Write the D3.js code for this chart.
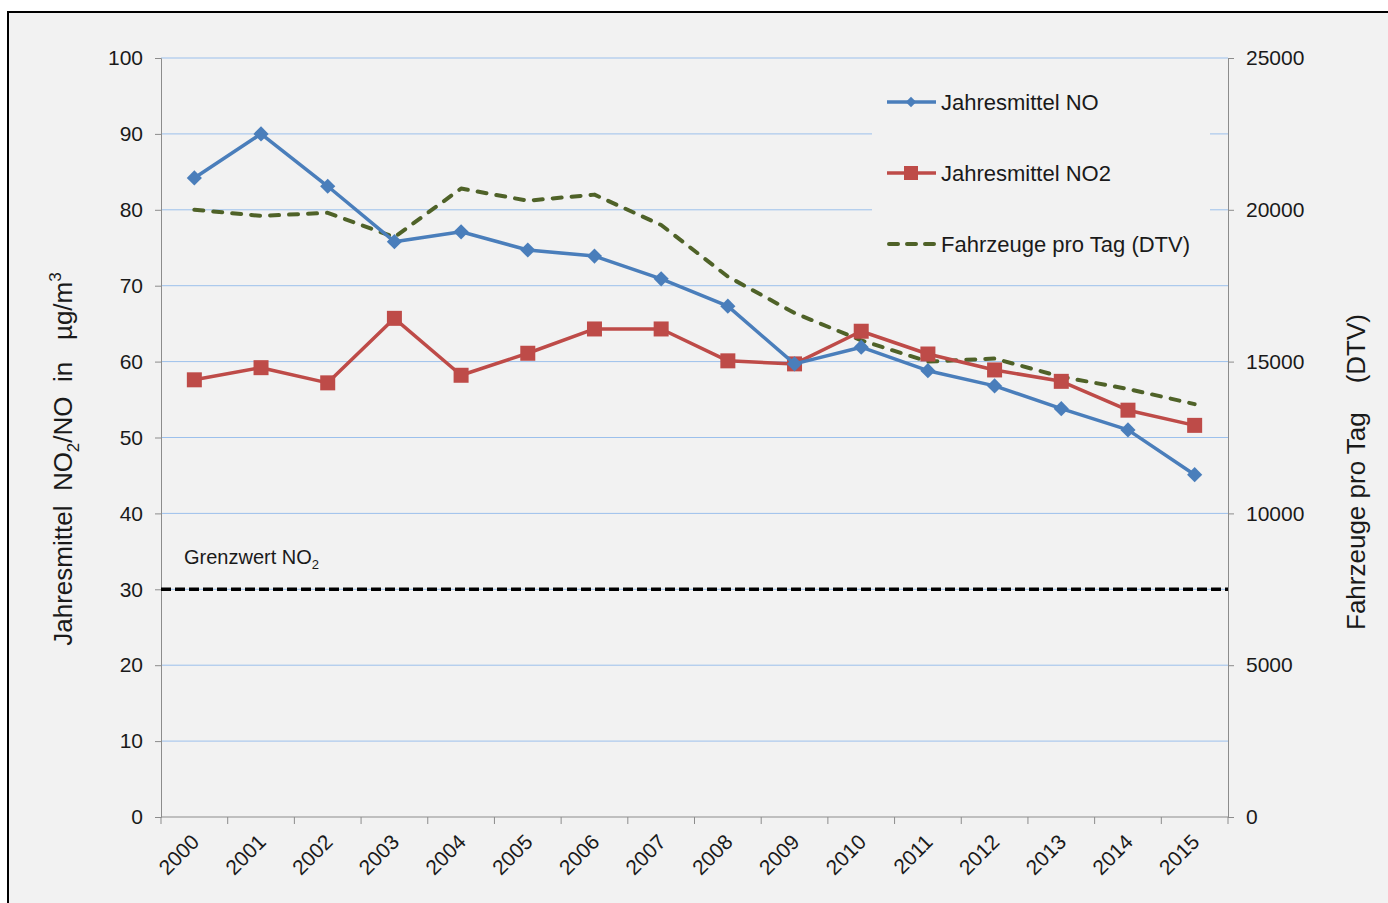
<!DOCTYPE html>
<html>
<head>
<meta charset="utf-8">
<script src="https://cdn.jsdelivr.net/npm/d3@7"></script>
<style>
  html, body { margin: 0; padding: 0; background: #ffffff; }
  svg { display: block; font-family: "Liberation Sans", Arial, sans-serif; }
  text { white-space: pre; }
</style>
</head>
<body>
<svg id="chart" width="1388" height="903"></svg>
<script>
// Jahre
const years = ["2000","2001","2002","2003","2004","2005","2006","2007",
               "2008","2009","2010","2011","2012","2013","2014","2015"];
// Jahresmittel NO (µg/m³)
const no = [84.2, 90.0, 83.1, 75.8, 77.1, 74.7, 73.9, 70.9,
            67.3, 59.7, 61.9, 58.8, 56.8, 53.8, 51.0, 45.1];
// Jahresmittel NO2 (µg/m³)
const no2 = [57.6, 59.2, 57.2, 65.7, 58.2, 61.1, 64.3, 64.3,
             60.1, 59.7, 64.0, 61.0, 58.9, 57.4, 53.6, 51.6];
// Fahrzeuge pro Tag (DTV)
const dtv = [20000, 19800, 19900, 19100, 20700, 20300, 20500, 19500,
             17800, 16600, 15700, 15000, 15100, 14500, 14100, 13600];
// Grenzwert NO2
const grenzwert = 30;
const leftTicks = [0,10,20,30,40,50,60,70,80,90,100];
const rightTicks = [0,5000,10000,15000,20000,25000];

const svg = d3.select("#chart");
const m = {left: 161, right: 1228, top: 58, bottom: 817};
const textColor = "#1a1a1a";

// Hintergrund mit Rahmen
svg.append("rect").attr("x", 8).attr("y", 12).attr("width", 1400).attr("height", 920)
  .attr("fill", "#f2f2f2").attr("stroke", "#000").attr("stroke-width", 2);

const x = d3.scaleBand().domain(years).range([m.left, m.right]);
const yL = d3.scaleLinear().domain([0, 100]).range([m.bottom, m.top]);
const yR = d3.scaleLinear().domain([0, 25000]).range([m.bottom, m.top]);
const cx = d => x(d) + x.bandwidth() / 2;

// Gitternetz
svg.append("g").selectAll("line").data(leftTicks.filter(d => d > 0)).join("line")
  .attr("x1", m.left).attr("x2", m.right)
  .attr("y1", d => yL(d)).attr("y2", d => yL(d))
  .attr("stroke", "#9cc0ec").attr("stroke-width", 1);

// Achsen
const axisColor = "#8c8c8c";
const gL = svg.append("g").attr("transform", `translate(${m.left},0)`)
  .call(d3.axisLeft(yL).tickValues(leftTicks).tickSize(6).tickPadding(12));
const gR = svg.append("g").attr("transform", `translate(${m.right},0)`)
  .call(d3.axisRight(yR).tickValues(rightTicks).tickFormat(d3.format("d"))
    .tickSize(6).tickPadding(12));
[gL, gR].forEach(g => {
  g.select(".domain").attr("stroke", axisColor);
  g.selectAll(".tick line").attr("stroke", axisColor);
  g.selectAll(".tick text").attr("fill", textColor).style("font-size", "21px")
    .style("font-family", "Liberation Sans, Arial, sans-serif");
});

const gB = svg.append("g").attr("transform", `translate(0,${m.bottom})`);
gB.append("line").attr("x1", m.left).attr("x2", m.right).attr("stroke", axisColor);
const bounds = years.map(d => x(d)).concat([m.right]);
gB.selectAll("line.t").data(bounds).join("line").attr("class", "t")
  .attr("x1", d => d).attr("x2", d => d).attr("y1", 0).attr("y2", 7)
  .attr("stroke", axisColor);
gB.selectAll("text").data(years).join("text")
  .attr("transform", d => `translate(${cx(d) + 1},${21}) rotate(-45)`)
  .attr("text-anchor", "end").attr("dy", "0.35em")
  .attr("fill", textColor).style("font-size", "21px").text(d => d);

// Grenzwert-Linie
svg.append("line")
  .attr("x1", m.left).attr("x2", m.right)
  .attr("y1", yL(grenzwert)).attr("y2", yL(grenzwert))
  .attr("stroke", "#000").attr("stroke-width", 3.5).attr("stroke-dasharray", "10,4");
const gw = svg.append("text").attr("x", 184).attr("y", yL(grenzwert) - 25)
  .attr("fill", textColor).style("font-size", "20px");
gw.append("tspan").text("Grenzwert NO");
gw.append("tspan").attr("dy", 5).style("font-size", "13px").text("2");

// Legendenhintergrund
svg.append("rect").attr("x", 872).attr("y", 78).attr("width", 338).attr("height", 188)
  .attr("fill", "#f2f2f2");

const blue = "#4a7ebb", red = "#be4b48", green = "#4f6228";

// DTV
const lineDTV = d3.line().x((d, i) => cx(years[i])).y(d => yR(d));
svg.append("path").datum(dtv).attr("d", lineDTV)
  .attr("fill", "none").attr("stroke", green).attr("stroke-width", 4)
  .attr("stroke-dasharray", "9,10").attr("stroke-linecap", "round")
  .attr("stroke-linejoin", "round");

// NO2
const lineL = d3.line().x((d, i) => cx(years[i])).y(d => yL(d));
svg.append("path").datum(no2).attr("d", lineL)
  .attr("fill", "none").attr("stroke", red).attr("stroke-width", 3.5)
  .attr("stroke-linejoin", "round");
svg.append("g").selectAll("rect").data(no2).join("rect")
  .attr("x", (d, i) => cx(years[i]) - 7.5).attr("y", d => yL(d) - 7.5)
  .attr("width", 15).attr("height", 15).attr("fill", red);

// NO
svg.append("path").datum(no).attr("d", lineL)
  .attr("fill", "none").attr("stroke", blue).attr("stroke-width", 3.5)
  .attr("stroke-linejoin", "round");
svg.append("g").selectAll("path").data(no).join("path")
  .attr("d", d3.symbol().type(d3.symbolSquare).size(115))
  .attr("transform", (d, i) => `translate(${cx(years[i])},${yL(d)}) rotate(45)`)
  .attr("fill", blue);

// Legende
const legend = [
  {name: "Jahresmittel NO", color: blue, y: 102, mark: "diamond"},
  {name: "Jahresmittel NO2", color: red, y: 173, mark: "square"},
  {name: "Fahrzeuge pro Tag (DTV)", color: green, y: 244, mark: "dash"}
];
const lg = svg.append("g");
legend.forEach(l => {
  const ln = lg.append("line").attr("x1", 887).attr("x2", 936).attr("y1", l.y).attr("y2", l.y)
    .attr("stroke", l.color).attr("stroke-width", l.mark === "dash" ? 4 : 3.5);
  if (l.mark === "dash") ln.attr("stroke-dasharray", "9,9").attr("stroke-linecap", "round")
    .attr("x1", 889).attr("x2", 934);
  if (l.mark === "diamond") {
    lg.append("path").attr("d", d3.symbol().type(d3.symbolSquare).size(55))
      .attr("transform", `translate(911,${l.y}) rotate(45)`).attr("fill", l.color);
  }
  if (l.mark === "square") {
    lg.append("rect").attr("x", 904).attr("y", l.y - 7).attr("width", 14).attr("height", 14)
      .attr("fill", l.color);
  }
  lg.append("text").attr("x", 941).attr("y", l.y).attr("dy", "0.35em")
    .attr("fill", textColor).style("font-size", "22px").text(l.name);
});

// Achsentitel
const tl = svg.append("text").attr("transform", "translate(72,459) rotate(-90)")
  .attr("text-anchor", "middle").attr("fill", textColor).style("font-size", "26px");
tl.append("tspan").text("Jahresmittel  NO");
tl.append("tspan").attr("dy", 7).style("font-size", "17px").text("2");
tl.append("tspan").attr("dy", -7).text("/NO  in   µg/m");
tl.append("tspan").attr("dy", -11).style("font-size", "17px").text("3");

svg.append("text").attr("transform", "translate(1365,472) rotate(-90)")
  .attr("text-anchor", "middle").attr("fill", textColor).style("font-size", "26px")
  .text("Fahrzeuge pro Tag    (DTV)");
</script>
</body>
</html>
